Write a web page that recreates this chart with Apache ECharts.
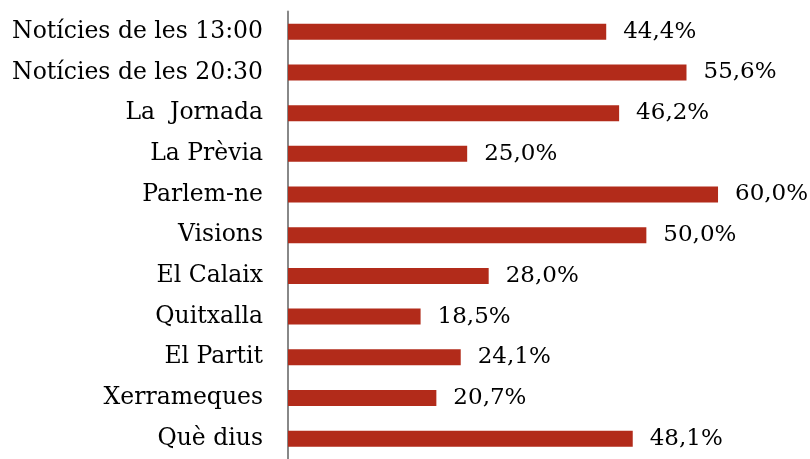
<!DOCTYPE html>
<html><head><meta charset="utf-8">
<script src="https://cdn.jsdelivr.net/npm/echarts@6/dist/echarts.min.js"></script>
<style>html,body{margin:0;padding:0;background:#fff}#c{width:810px;height:459px}</style>
</head><body><div id="c"></div>
<script>
const categories = ["Notícies de les 13:00","Notícies de les 20:30","La  Jornada","La Prèvia","Parlem-ne","Visions","El Calaix","Quitxalla","El Partit","Xerrameques","Què dius"];
const values = [44.4,55.6,46.2,25.0,60.0,50.0,28.0,18.5,24.1,20.7,48.1];

const chart = echarts.init(document.getElementById('c'));
const font = '"DejaVu Serif", "Liberation Serif", serif';
chart.setOption({
  animation:false,
  grid:{left:288, top:11.4, width:501.7, height:453.2},
  xAxis:{type:'value', min:0, max:70, show:false},
  yAxis:{type:'category', data:categories, inverse:true,
    axisLine:{lineStyle:{color:'#888', width:2}},
    axisTick:{show:false},
    axisLabel:{color:'#000', fontFamily:font, fontSize:23.5, margin:25}},
  series:[{type:'bar', data:values, barWidth:16,
    itemStyle:{color:'#b22b1a'},
    label:{show:true, position:'right', distance:17, color:'#000', fontFamily:font, fontSize:23,
      formatter:p=>p.value.toFixed(1).replace('.',',')+'%'}}]
});
</script></body></html>
